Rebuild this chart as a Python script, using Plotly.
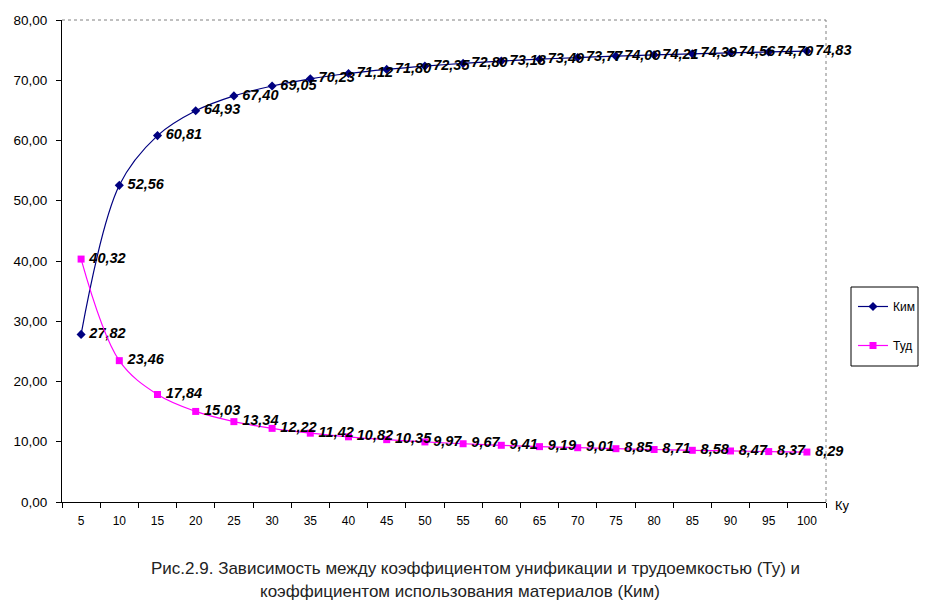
import plotly.graph_objects as go

ku = [5, 10, 15, 20, 25, 30, 35, 40, 45, 50, 55, 60, 65, 70, 75, 80, 85, 90, 95, 100]
kim = [27.82, 52.56, 60.81, 64.93, 67.40, 69.05, 70.23, 71.12, 71.80, 72.35,
       72.80, 73.18, 73.49, 73.77, 74.00, 74.21, 74.39, 74.56, 74.70, 74.83]
tud = [40.32, 23.46, 17.84, 15.03, 13.34, 12.22, 11.42, 10.82, 10.35, 9.97,
       9.67, 9.41, 9.19, 9.01, 8.85, 8.71, 8.58, 8.47, 8.37, 8.29]

cats = [str(v) for v in ku]
fmt = lambda arr: ["\u2009" + f"{v:.2f}".replace(".", ",") for v in arr]

lab_font = dict(family="Liberation Sans, Arial", size=14.5, color="black", style="italic", weight="bold")

# page offset of the figure (browser body margin) and plot-area geometry
OFF = 8
L, R, T, B, W, H = 54, 102, 12, 107, 920, 601
PW, PH = W - L - R, H - T - B
px = lambda x: (x - OFF - L) / PW
py = lambda y: (H - B - (y - OFF)) / PH

fig = go.Figure()
fig.add_trace(go.Scatter(
    x=cats, y=kim, name="Ким", mode="lines+markers+text", legendgroup="a",
    line=dict(color="#000080", width=1.2, shape="spline", smoothing=1),
    marker=dict(symbol="diamond", size=7, color="#000080"),
    text=fmt(kim), textposition="middle right", textfont=lab_font, cliponaxis=False,
))
fig.add_trace(go.Scatter(
    x=cats, y=tud, name="Туд", mode="lines+markers+text", legendgroup="b",
    line=dict(color="#FF00FF", width=1.2, shape="spline", smoothing=1),
    marker=dict(symbol="square", size=7, color="#FF00FF"),
    text=fmt(tud), textposition="middle right", textfont=lab_font, cliponaxis=False,
))

fig.update_layout(
    width=W, height=H,
    margin=dict(l=L, r=R, t=T, b=B, autoexpand=False),
    paper_bgcolor="white", plot_bgcolor="white",
    separators=", ",
    font=dict(family="Liberation Sans, Arial", size=12, color="black"),
    showlegend=True,
    legend=dict(x=px(853), y=py(326), xanchor="left", yanchor="middle",
                borderwidth=0, bgcolor="rgba(0,0,0,0)",
                font=dict(size=12, color="black"), itemwidth=30,
                tracegroupgap=20),
    xaxis=dict(type="category", tickson="boundaries", ticks="outside", ticklen=5,
               tickcolor="black", showline=True, linecolor="black", linewidth=1,
               showgrid=False, zeroline=False, range=[-0.5, 19.5], automargin=False,
               ticklabelstandoff=8, tickfont=dict(size=12)),
    yaxis=dict(range=[0, 80], dtick=10, tickformat=".2f", ticks="outside", ticklen=5,
               tickcolor="black", showline=True, linecolor="black", linewidth=1,
               showgrid=False, zeroline=False, automargin=False,
               ticklabelstandoff=6, tickfont=dict(size=13.5)),
    shapes=[
        dict(type="line", xref="paper", yref="paper", x0=0, x1=1, y0=1, y1=1,
             line=dict(color="#808080", width=1, dash="dot")),
        dict(type="line", xref="paper", yref="paper", x0=1, x1=1, y0=0, y1=1,
             line=dict(color="#808080", width=1, dash="dot")),
        dict(type="rect", xref="paper", yref="paper", x0=px(851), x1=px(918),
             y0=py(366), y1=py(287), line=dict(color="black", width=1)),
    ],
    annotations=[
        dict(text="Ку", xref="paper", yref="paper", x=px(842), y=py(505),
             xanchor="center", yanchor="middle",
             showarrow=False, font=dict(size=13, color="black")),
        dict(text="Рис.2.9. Зависимость между коэффициентом унификации и трудоемкостью (Ту) и",
             xref="paper", yref="paper", x=px(475), y=py(568), xanchor="center", yanchor="middle",
             showarrow=False, font=dict(size=17, color="#222222", family="Liberation Sans, Arial")),
        dict(text="коэффициентом использования материалов (Ким)",
             xref="paper", yref="paper", x=px(460), y=py(591), xanchor="center", yanchor="middle",
             showarrow=False, font=dict(size=17, color="#222222", family="Liberation Sans, Arial")),
    ],
)

fig.write_html("out.html")
